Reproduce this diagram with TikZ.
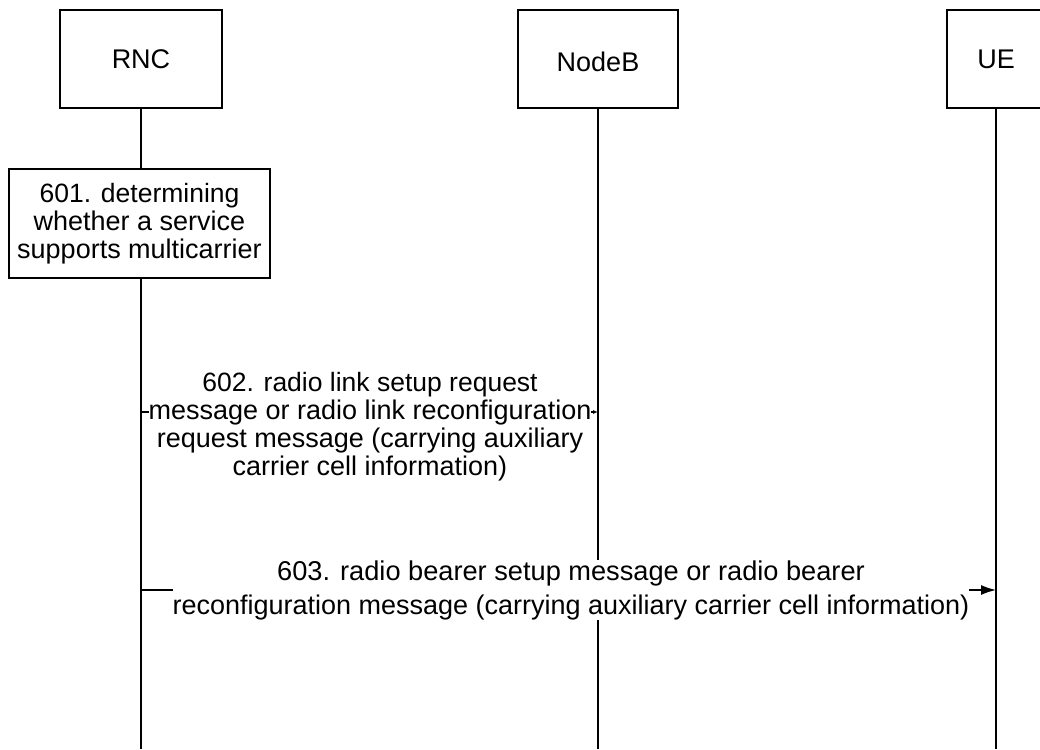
\documentclass[tikz,border=0pt]{standalone}
\usepackage{fontspec}
\setmainfont{Liberation Sans}
\usetikzlibrary{arrows.meta}
\begin{document}
\begin{tikzpicture}[x=1pt,y=-1pt,
  every node/.style={font=\fontsize{27}{28}\selectfont},
  actor/.style={draw, line width=1.6pt, inner sep=0pt, minimum height=98pt},
  stepbox/.style={draw, line width=1.6pt, inner sep=0pt, align=center, minimum width=261pt, minimum height=109pt},
  life/.style={line width=1.6pt},
  msg/.style={line width=1.4pt},
  lbl/.style={fill=white, inner sep=0pt, align=center}
]
\useasboundingbox (0,0) rectangle (1040,749);
% actors
\node[actor, minimum width=162pt] (rnc) at (141,59) {RNC};
\node[actor, minimum width=160pt] (nodeb) at (598,59) {\raisebox{-3pt}[\height][0pt]{NodeB}};
\node[actor, minimum width=98pt] (ue) at (996,59) {UE};
% step box
\node[stepbox] (s601) at (139.5,223.5) {\fontsize{26.5}{28.5}\selectfont 601. determining\\ whether a service\\ supports multicarrier};
% bottom coordinates
\coordinate (rncEnd) at (141,749);
\coordinate (nbEnd) at (598,749);
\coordinate (ueEnd) at (996,749);
% lifelines
\draw[life] (rnc.south) -- (rnc.south |- s601.north);
\draw[life] (rnc.south |- s601.south) -- (rncEnd);
\draw[life] (nodeb.south) -- (nbEnd);
\draw[life] (ue.south) -- (ueEnd);
% messages
\coordinate (m2a) at (141,412);
\coordinate (m2b) at (598,412);
\draw[msg, -{Latex[length=5pt,width=4pt]}] (m2a) -- (m2b);
\node[lbl] (t602) at (370,427) {\fontsize{26.5}{26.7}\selectfont 602. radio link setup request\\ message or radio link reconfiguration\\ request message (carrying auxiliary\\ carrier cell information)};
\coordinate (m3a) at (141,590);
\coordinate (m3b) at (996,590);
\draw[msg, -{Latex[length=15pt,width=10pt]}] (m3a) -- (m3b);
\node[lbl] (t603) at (571,590) {\fontsize{27.2}{28}\selectfont 603. radio bearer setup message or radio bearer\\[6pt] reconfiguration message (carrying auxiliary carrier cell information)};
\end{tikzpicture}
\end{document}
